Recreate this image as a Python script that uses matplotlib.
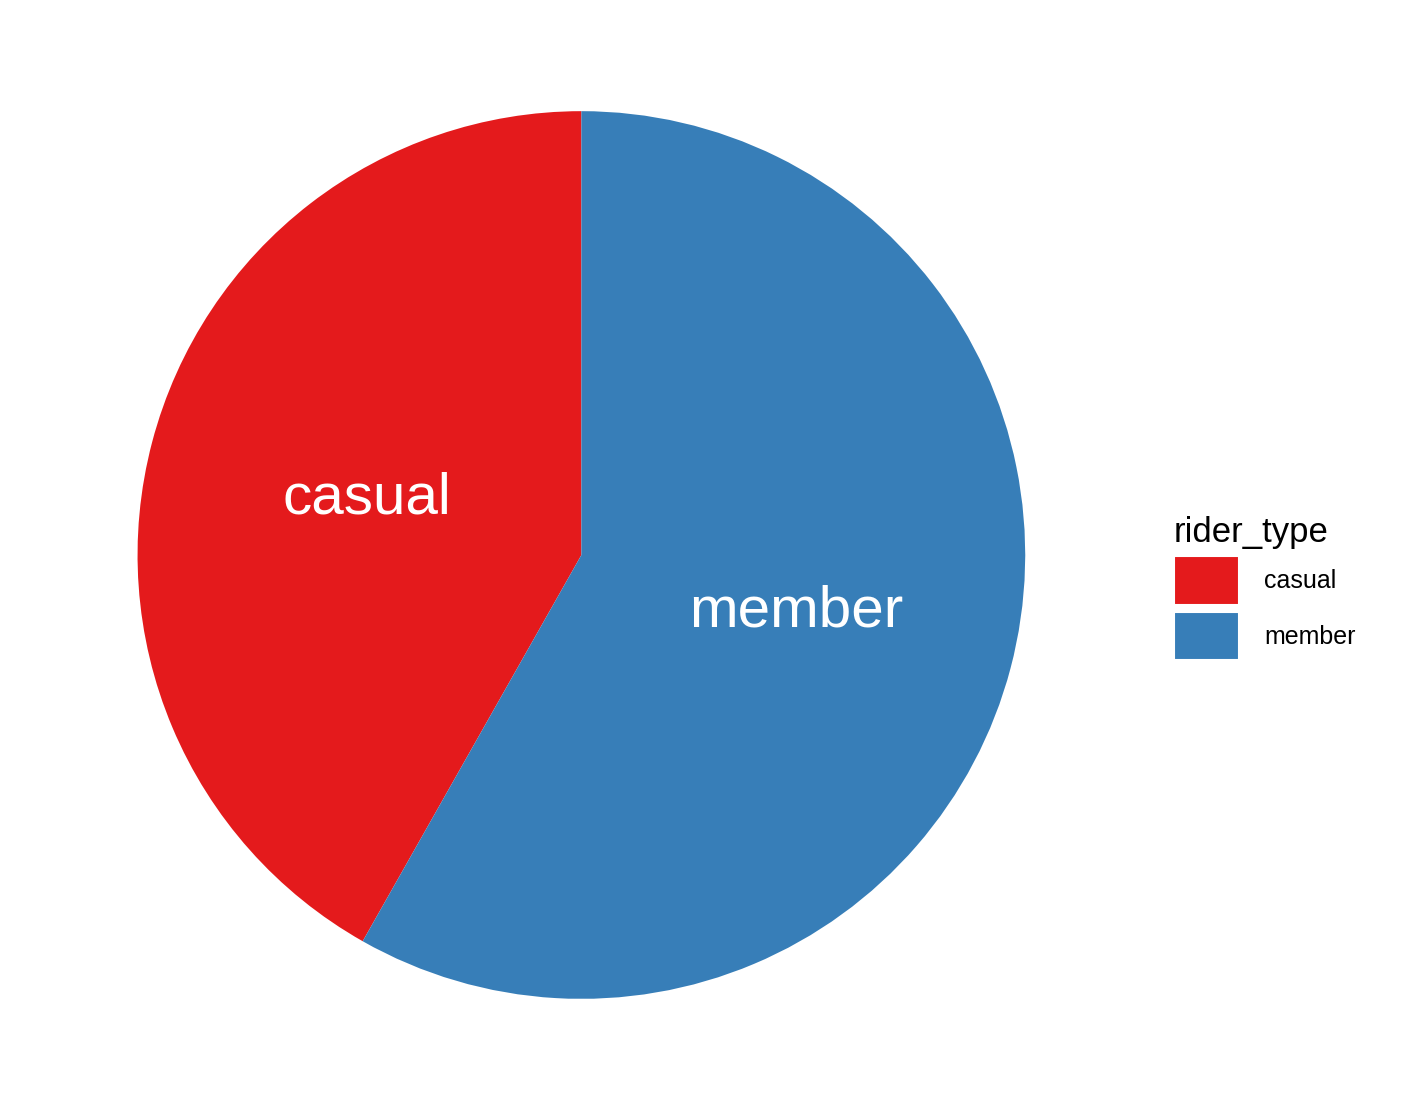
import matplotlib.pyplot as plt

plt.rcParams['font.family'] = ['Liberation Sans', 'DejaVu Sans']

rider_types = ['casual', 'member']
shares = [41.8, 58.2]
colors = ['#E41A1C', '#377EB8']

fig = plt.figure(figsize=(14.18, 11.10), dpi=100)
ax = fig.add_axes([0.097, 0.1, 0.626, 0.8])
wedges, texts = ax.pie(shares, colors=colors, startangle=90, counterclock=True,
                       labels=rider_types, labeldistance=0.5,
                       textprops=dict(color='white', fontsize=42),
                       wedgeprops=dict(linewidth=0))
for t in texts:
    t.set_horizontalalignment('center')
    t.set_verticalalignment('center')
ax.set_xlim(-1, 1)
ax.set_ylim(-1, 1)
ax.set_aspect('equal')

leg = fig.legend(wedges, rider_types, title='rider_type', frameon=False,
                 loc='center left', bbox_to_anchor=(0.812, 0.47),
                 fontsize=18, title_fontsize=25, handlelength=2.6, handleheight=2.6,
                 labelspacing=0.28, handletextpad=1.0)
leg._legend_box.align = 'left'
for h in leg.legend_handles:
    h.set_edgecolor('white')
    h.set_linewidth(1.5)

fig.savefig('out.png', dpi=100)
